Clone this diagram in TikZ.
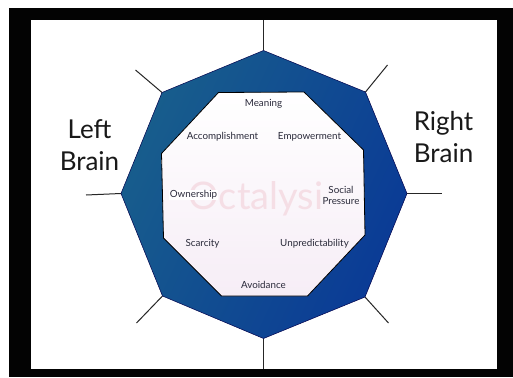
\documentclass[tikz,border=0pt]{standalone}
\usepackage{fontspec}
\setmainfont{Lato}
\usetikzlibrary{calc}
\definecolor{frameblk}{HTML}{030303}
\definecolor{bluea}{HTML}{0A3A96}
\definecolor{bluem}{HTML}{0C3F8C}
\definecolor{blueb}{HTML}{185E8C}
\definecolor{ink}{HTML}{2A2A3A}
\definecolor{wm}{HTML}{F5DEE5}
\tikzset{
  spoke/.style={draw=black!85,line width=1pt},
  lbl/.style={font=\fontsize{9.8}{11.6}\selectfont,text=ink,inner sep=0pt,align=center},
  brain/.style={font=\fontsize{26}{32}\selectfont,text=black!90,inner sep=0pt,align=center},
  tip/.style={inner sep=0pt,minimum size=0pt}
}
\begin{document}
\begin{tikzpicture}[x=1pt,y=-1pt]
\useasboundingbox (0,0) rectangle (513,377);
\fill[white] (0,0) rectangle (513,377);
\fill[frameblk] (9,8) rectangle (513,377);
\fill[white] (30.5,20) rectangle (497,369);
% outer vertices
\coordinate (oN) at (263.5,50.5);
\coordinate (oNE) at (365.5,92);
\coordinate (oE) at (407,193.5);
\coordinate (oSE) at (365,297);
\coordinate (oS) at (263.5,338.5);
\coordinate (oSW) at (162.5,296);
\coordinate (oW) at (121,193.5);
\coordinate (oNW) at (162,92.5);
% spoke ends
\coordinate (eN) at (263.5,20);
\coordinate (eNE) at (387.5,65);
\coordinate (eE) at (441.5,193.5);
\coordinate (eSE) at (388.5,323);
\coordinate (eS) at (263.5,369);
\coordinate (eSW) at (136.5,323);
\coordinate (eW) at (86,195);
\coordinate (eNW) at (135.5,70);
\foreach \a/\b in {oN/eN,oNE/eNE,oE/eE,oSE/eSE,oS/eS,oSW/eSW,oW/eW,oNW/eNW}
  \draw[spoke] (\a) -- (\b);
\path[shading=axis,left color=blueb,middle color=bluem,right color=bluea,shading angle=65,draw=black!70!blue,line width=0.5pt]
  (oN)--(oNE)--(oE)--(oSE)--(oS)--(oSW)--(oW)--(oNW)--cycle;
\path[top color=white,bottom color=white!93!violet,draw=black,line width=0.8pt]
  (218.5,92.5)--(304,92)--(363.5,150)--(365,235)--(307.5,296)--(221.5,296)--(163.5,238)--(161.5,153.5)--cycle;
\node[inner sep=0pt,text=wm,font=\fontsize{38}{38}\selectfont] (mark) at (256,199) {Octalysi};
\node[lbl,fill=white,inner sep=0.5pt] (owner) at (193.5,195) {Ownership};
\node[lbl] (meaning) at (263.5,104) {Meaning};
\node[lbl] (accomp) at (222.5,136.5) {Accomplishment};
\node[lbl] (empower) at (309.5,136.5) {Empowerment};
\node[lbl] (social) at (341,195.5) {Social\\Pressure};
\node[lbl] (scarcity) at (202.5,244) {Scarcity};
\node[lbl] (unpred) at (314.5,244) {Unpredictability};
\node[lbl] (avoid) at (263.5,285) {Avoidance};
\node[brain] (left) at (89.5,145.5) {Left\\Brain};
\node[brain] (right) at (443.5,137.5) {Right\\Brain};
\end{tikzpicture}
\end{document}
